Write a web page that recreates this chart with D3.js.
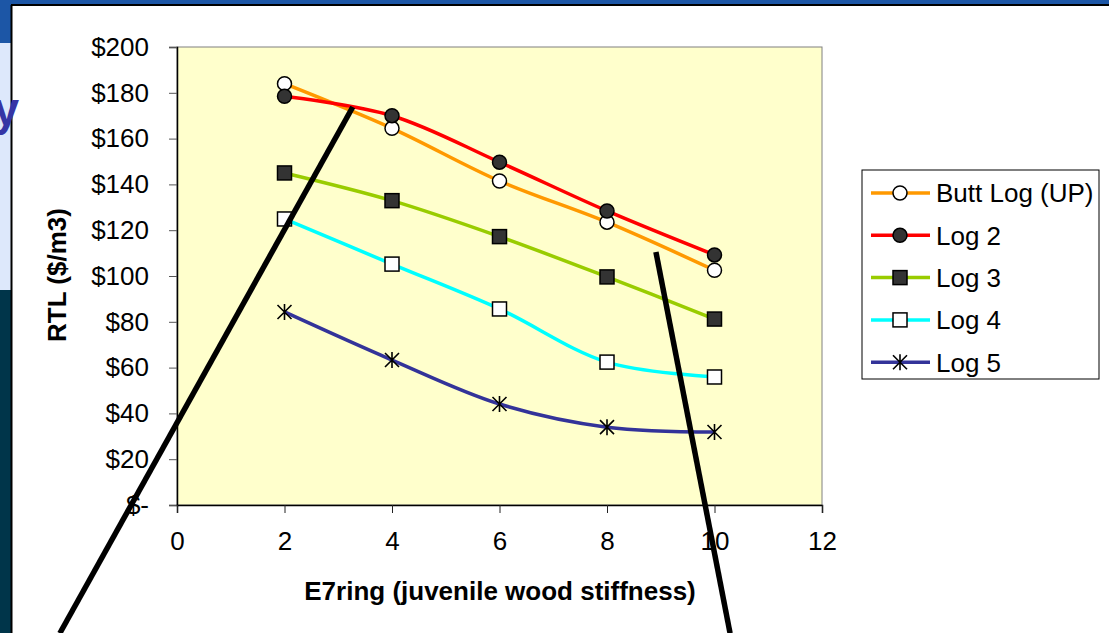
<!DOCTYPE html>
<html>
<head>
<meta charset="utf-8">
<script src="https://cdn.jsdelivr.net/npm/d3@7"></script>
<style>
  html, body { margin: 0; padding: 0; background: #ffffff; }
  svg { display: block; font-family: "Liberation Sans", Arial, sans-serif; }
</style>
</head>
<body>
<svg id="chart" width="1109" height="633"></svg>
<script>
// Stiffness classes on the x axis
const stiffness = [2, 4, 6, 8, 10];

// RTL value ($/m3) per log position
const buttLog = [184, 164.5, 141.5, 123.5, 102.5];
const log2 = [178.5, 170, 149.7, 128.4, 109.2];
const log3 = [145, 132.9, 117.2, 99.6, 81.2];
const log4 = [124.9, 105.2, 85.6, 62.4, 55.9];
const log5 = [84.3, 63.3, 44.1, 34, 31.9];

const seriesNames = ["Butt Log (UP)", "Log 2", "Log 3", "Log 4", "Log 5"];
const seriesValues = [buttLog, log2, log3, log4, log5];

// Axis ticks
const xTicks = [0, 2, 4, 6, 8, 10, 12];
const yTicks = [0, 20, 40, 60, 80, 100, 120, 140, 160, 180, 200];

// Two callout strokes, given in data units: [[x0, y0], [x1, y1]]
const callouts = [
  [[-2.18, -56], [3.27, 173.8]],
  [[8.91, 110.5], [10.29, -56]]
];

const styles = [
  { color: "#ff9900", marker: "circle", fill: "#ffffff" },
  { color: "#ff0000", marker: "circle", fill: "#333333" },
  { color: "#99cc00", marker: "square", fill: "#333333" },
  { color: "#00ffff", marker: "square", fill: "#ffffff" },
  { color: "#333399", marker: "star", fill: "none" }
];

const FONT = 26;
const svg = d3.select("#chart");
const W = 1109, H = 633;

// Slide backdrop: top band, left strip, framed white panel
svg.append("rect").attr("x", 0).attr("y", 0).attr("width", W).attr("height", H).attr("fill", "#ffffff");
svg.append("rect").attr("x", 0).attr("y", 0).attr("width", W).attr("height", 5).attr("fill", "#1c56a6");
svg.append("rect").attr("x", 0).attr("y", 0).attr("width", 11).attr("height", 43).attr("fill", "#1c56a6");
svg.append("rect").attr("x", 0).attr("y", 43).attr("width", 11).attr("height", 247).attr("fill", "#dde8fb");
svg.append("rect").attr("x", 0).attr("y", 290).attr("width", 11).attr("height", H - 290).attr("fill", "#00354a");
svg.append("rect").attr("x", 11).attr("y", 5).attr("width", W - 11).attr("height", H - 5).attr("fill", "#ffffff");
svg.append("line").attr("x1", 11).attr("y1", 5).attr("x2", W).attr("y2", 5).attr("stroke", "#000").attr("stroke-width", 2);
svg.append("line").attr("x1", 11.5).attr("y1", 5).attr("x2", 11.5).attr("y2", H).attr("stroke", "#000").attr("stroke-width", 2);

// Last letter of the slide title, partly hidden behind the chart panel
svg.append("text")
  .attr("x", 19).attr("y", 125)
  .attr("text-anchor", "end")
  .attr("font-size", 46).attr("font-weight", "bold")
  .attr("fill", "#3535a5")
  .text("y");

// Plot area
const plot = { left: 177, top: 47, right: 822, bottom: 505 };
const x = d3.scaleLinear().domain([0, 12]).range([plot.left, plot.right]);
const y = d3.scaleLinear().domain([0, 200]).range([plot.bottom, plot.top]);

svg.append("rect")
  .attr("x", plot.left).attr("y", plot.top)
  .attr("width", plot.right - plot.left).attr("height", plot.bottom - plot.top)
  .attr("fill", "#ffffcc").attr("stroke", "#808080").attr("stroke-width", 1);

// Axes
const yAxis = d3.axisLeft(y).tickValues(yTicks).tickSize(8).tickPadding(20)
  .tickFormat(d => d === 0 ? "$-" : "$" + d);
const gy = svg.append("g").attr("transform", `translate(${plot.left},0)`).call(yAxis);
gy.select(".domain").attr("stroke", "#000").attr("stroke-width", 1.5);
gy.selectAll(".tick line").attr("stroke", "#555");
gy.selectAll(".tick text").attr("font-size", FONT).attr("fill", "#000")
  .attr("font-family", "Liberation Sans, Arial, sans-serif");

const xAxis = d3.axisBottom(x).tickValues(xTicks).tickSize(8).tickPadding(19).tickFormat(d3.format("d"));
const gx = svg.append("g").attr("transform", `translate(0,${plot.bottom})`).call(xAxis);
gx.select(".domain").attr("stroke", "#000").attr("stroke-width", 1.5);
gx.selectAll(".tick line").attr("stroke", "#222");
gx.selectAll(".tick text").attr("font-size", FONT).attr("fill", "#000")
  .attr("font-family", "Liberation Sans, Arial, sans-serif");

// Axis titles
svg.append("text")
  .attr("x", 500).attr("y", 600)
  .attr("text-anchor", "middle").attr("font-size", FONT).attr("font-weight", "bold")
  .text("E7ring (juvenile wood stiffness)");
svg.append("text")
  .attr("transform", `translate(66,275) rotate(-90)`)
  .attr("text-anchor", "middle").attr("font-size", FONT).attr("font-weight", "bold")
  .text("RTL ($/m3)");

// Marker drawing helper
function drawMarker(g, kind, fill, cx, cy) {
  if (kind === "circle") {
    g.append("circle").attr("cx", cx).attr("cy", cy).attr("r", 7)
      .attr("fill", fill).attr("stroke", "#000").attr("stroke-width", 1.5);
  } else if (kind === "square") {
    g.append("rect").attr("x", cx - 7).attr("y", cy - 7).attr("width", 14).attr("height", 14)
      .attr("fill", fill).attr("stroke", "#000").attr("stroke-width", 1.5);
  } else {
    const s = 7;
    const p = `M${cx - s},${cy - s}L${cx + s},${cy + s}M${cx - s},${cy + s}L${cx + s},${cy - s}M${cx},${cy - s - 1}L${cx},${cy + s + 1}`;
    g.append("path").attr("d", p).attr("stroke", "#000").attr("stroke-width", 1.6).attr("fill", "none");
  }
}

// Smoothed series lines
const lineGen = d3.line()
  .x(d => x(d[0]))
  .y(d => y(d[1]))
  .curve(d3.curveCatmullRom.alpha(0.5));

const seriesG = svg.append("g");
seriesValues.forEach((vals, i) => {
  const pts = stiffness.map((s, j) => [s, vals[j]]);
  seriesG.append("path").datum(pts)
    .attr("d", lineGen)
    .attr("fill", "none")
    .attr("stroke", styles[i].color)
    .attr("stroke-width", 3.5)
    .attr("stroke-linejoin", "round");
});
seriesValues.forEach((vals, i) => {
  const g = seriesG.append("g");
  stiffness.forEach((s, j) => drawMarker(g, styles[i].marker, styles[i].fill, x(s), y(vals[j])));
});

// Legend
const legend = { left: 862, top: 170, width: 237, height: 209, rowGap: 42.3, firstRow: 193 };
svg.append("rect")
  .attr("x", legend.left).attr("y", legend.top)
  .attr("width", legend.width).attr("height", legend.height)
  .attr("fill", "#ffffff").attr("stroke", "#000").attr("stroke-width", 1);
seriesNames.forEach((name, i) => {
  const cy = legend.firstRow + i * legend.rowGap;
  const g = svg.append("g");
  g.append("line").attr("x1", 871).attr("x2", 930).attr("y1", cy).attr("y2", cy)
    .attr("stroke", styles[i].color).attr("stroke-width", 3.5);
  drawMarker(g, styles[i].marker, styles[i].fill, 900, cy);
  g.append("text").attr("x", 936).attr("y", cy).attr("dy", "0.36em")
    .attr("font-size", FONT).attr("fill", "#000").text(name);
});

// Callout strokes across the chart
callouts.forEach(c => {
  svg.append("line")
    .attr("x1", x(c[0][0])).attr("y1", y(c[0][1]))
    .attr("x2", x(c[1][0])).attr("y2", y(c[1][1]))
    .attr("stroke", "#000").attr("stroke-width", 5.5);
});
</script>
</body>
</html>
